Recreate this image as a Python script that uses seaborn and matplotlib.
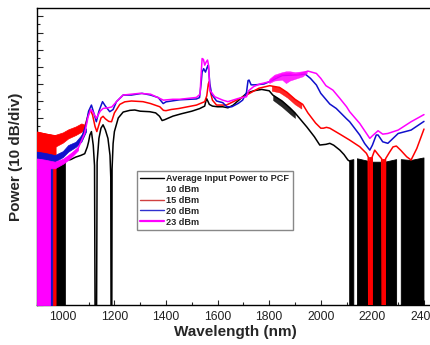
import numpy as np
import pandas as pd
import matplotlib
matplotlib.use("Agg")
import matplotlib.pyplot as plt
import seaborn as sns
from matplotlib.lines import Line2D
from matplotlib.ticker import MultipleLocator

sns.set_style("white")
plt.rcParams['font.family'] = ['Liberation Sans', 'DejaVu Sans']

FLOOR = -170.0
NAN = np.nan

# ---------------- Black: Average input power to PCF, 10 dBm ----------------
bk_wl = [900, 940, 975, 1000, 1010, 1030, 1050, 1070, 1085, 1095, 1100, 1105, 1111, 1118,
         1123, 1125, 1131, 1133, 1140, 1148, 1156, 1165, 1175, 1183, 1186, 1187, 1190, 1191,
         1195, 1200, 1215, 1234, 1260, 1279, 1300, 1337, 1360, 1375, 1385, 1395, 1410, 1427,
         1460, 1500, 1530, 1550, 1557, 1562, 1568, 1580, 1600, 1620, 1640, 1660, 1686, 1712,
         1740, 1771, 1800, 1814, 1850, 1880, 1900, 1946, 1975, 1996, 2020, 2035, 2050, 2074,
         2090, 2105, 2118]
bk_db = [-88, -89, -87, -86, -85, -84.5, -83, -82, -81, -77, -74, -70, -68, -76,
         -88, -170, -170, -86, -72, -66, -64, -67, -72, -82, -95, -170, -170, -90,
         -75, -68, -60, -56.5, -55.5, -55.3, -56, -56.3, -57, -59, -61.5, -61, -60, -58.9,
         -57.5, -56, -54.5, -53, -48.5, -50, -52, -53, -53.4, -53.4, -54, -52.5, -49, -45.5,
         -44, -43.2, -44, -46.5, -50, -54, -57, -65.3, -71, -75.9, -75.5, -74.9, -76, -78.9,
         -81.5, -84.7, -86]
# noise floor regions (signal drops to the floor)
bk_floor_wl = [900, 940, 980, 1000, 1008]
bk_floor_top = [-88, -89, -87, -86, -85.5]
bk_floor2_wl = [2112, 2128, 2133, 2142, 2200, 2250, 2294, 2302, 2312, 2350, 2400]
bk_floor2_top = [-85, -84.5, NAN, -84, -86, -86, -84.5, NAN, -84.5, -85, -83.5]
bk_noise_wl = [1815, 1850, 1880, 1900]
bk_noise_lo = [-49.5, -53.5, -57.5, -60]
bk_noise_hi = [-46.5, -50, -54, -57]

# ---------------- Red: 15 dBm ----------------
rd_wl = [900, 930, 969, 1000, 1021, 1050, 1072, 1085, 1095, 1105, 1115, 1125, 1132, 1140,
         1148, 1156, 1165, 1178, 1189, 1200, 1221, 1240, 1266, 1311, 1340, 1376, 1390, 1400,
         1420, 1450, 1518, 1550, 1558, 1564, 1567, 1571, 1580, 1596, 1634, 1673, 1712, 1760,
         1802, 1840, 1870, 1900, 1930, 1950, 1980, 2000, 2010, 2022, 2035, 2074, 2112, 2151,
         2177, 2184, 2186, 2197, 2199, 2209, 2225, 2236, 2238, 2249, 2251, 2267, 2280, 2293,
         2310, 2333, 2350, 2372, 2400]
rd_db = [-74, -74, -73.5, -71.5, -69.5, -67.5, -65.6, -65, -60, -55, -58, -65, -68, -64,
         -60, -59, -60.5, -62, -62.2, -57, -52, -50.5, -50, -50.4, -51.5, -53.4, -55.5, -55.7,
         -55, -54.4, -52.4, -50.4, -47, -40, -38.7, -44, -49.5, -52.4, -52.4, -49.5, -46.5, -42.5,
         -41, -42, -45, -49, -52, -57, -63, -66, -66, -65.5, -66, -69.5, -73, -76.9,
         -80.8, -83, -170, -170, -83, -78.9, -82, -84, -170, -170, -84, -80, -77, -76.5,
         -79, -82.8, -84.7, -78, -66.5]
rd_band_wl = [900, 930, 969, 1000, 1021, 1050, 1072, 1085]
rd_band_lo = [-80, -79, -77, -74.5, -72, -70, -68.1, -66]
rd_band_hi = [-68, -69, -70, -68.5, -66.7, -65, -63.2, -64]
rd_floor_wl = [900, 930, 960, 972]
rd_floor_top = [-68, -69, -70, -70]
rd_floor2_wl = [2185, 2198, 2218, 2237, 2250]
rd_floor2_top = [-83, -83, NAN, -84, -84]
rd_noise_wl = [1810, 1840, 1870, 1900, 1925]
rd_noise_lo = [-44, -45, -48, -52, -54.5]
rd_noise_hi = [-41, -42, -45, -49, -51.5]

# ---------------- Blue: 20 dBm ----------------
bl_wl = [900, 969, 1000, 1021, 1050, 1072, 1090, 1100, 1111, 1120, 1130, 1140, 1154, 1165,
         1182, 1195, 1208, 1234, 1266, 1307, 1340, 1370, 1389, 1400, 1453, 1518, 1530, 1536,
         1540, 1546, 1553, 1560, 1564, 1570, 1577, 1596, 1620, 1636, 1655, 1680, 1697, 1712,
         1718, 1722, 1730, 1745, 1780, 1800, 1830, 1850, 1880, 1920, 1940, 1960, 1983, 2000,
         2035, 2060, 2100, 2112, 2151, 2170, 2190, 2200, 2215, 2222, 2240, 2260, 2300, 2350,
         2400]
bl_db = [-83, -84, -81, -78, -75.5, -72, -64, -56, -52.4, -57, -62.2, -56, -50.4, -53,
         -56.3, -55, -50.4, -46.5, -46.5, -45.5, -46.5, -48, -51.5, -50.5, -49.3, -48.8, -48, -40,
         -33, -31, -33, -30, -29, -40, -46, -50, -51, -53.4, -53.4, -51.4, -49.5, -45,
         -38, -37.7, -40.5, -40.5, -40, -38.7, -36.5, -35, -34.8, -34.5, -34.2, -36.7, -40.6, -45.5,
         -51.8, -54.4, -60.5, -62.2, -70, -75, -78.9, -76, -70, -70, -74, -74.9, -69.1, -67.1,
         -62]
bl_band_wl = [900, 930, 969, 1000, 1021, 1050, 1072, 1090]
bl_band_lo = [-86.7, -86.5, -85.7, -83, -79.8, -77, -73.9, -68]
bl_band_hi = [-79.8, -80.5, -81.8, -79.5, -75.9, -74, -70, -66]
bl_floor_wl = [900, 930, 959]
bl_floor_top = [-80, -81, -82]

# ---------------- Magenta: 23 dBm ----------------
mg_wl = [900, 969, 1000, 1021, 1040, 1059, 1085, 1098, 1108, 1115, 1130, 1145, 1156, 1175,
         1190, 1208, 1234, 1266, 1298, 1340, 1376, 1390, 1426, 1453, 1518, 1532, 1536, 1540,
         1545, 1550, 1556, 1561, 1565, 1570, 1589, 1620, 1640, 1680, 1712, 1720, 1740, 1764,
         1800, 1820, 1850, 1880, 1900, 1920, 1950, 1983, 2000, 2020, 2047, 2074, 2100, 2112,
         2130, 2151, 2170, 2190, 2200, 2222, 2240, 2260, 2300, 2350, 2400]
mg_db = [-86.5, -87.5, -85.5, -83, -81, -78, -69, -59.3, -55, -56, -60.2, -56, -54.4, -54,
         -53.5, -50.4, -46.5, -46, -45.5, -46, -48.5, -49.5, -49, -49, -47.9, -46, -35, -25,
         -25.5, -28.9, -27, -25.9, -29, -43.6, -47.5, -49.5, -50.4, -48.5, -47.5, -44, -41.5, -40,
         -38.7, -36.1, -34.5, -34, -34.8, -34, -32.4, -33.8, -36.7, -41, -43.6, -48.5, -53.4, -56.3,
         -59.5, -63.2, -67.5, -72, -70.5, -67.5, -69.5, -69.1, -67.1, -62.2, -58]
mg_band_wl = [900, 930, 969, 1000, 1021, 1040, 1059]
mg_band_lo = [-89.6, -89.6, -89.6, -87, -84.7, -82, -79]
mg_band_hi = [-83.8, -84.5, -85.7, -84, -81.8, -79.5, -76.9]
mg_floor_wl = [900, 930, 950]
mg_floor_top = [-84, -85, -85.5]
mg_noise_wl = [1800, 1820, 1850, 1865, 1880, 1900, 1930, 1946]
mg_noise_lo = [-39.5, -38, -37.5, -39.5, -38, -37, -35.5, -33.5]
mg_noise_hi = [-37, -34.5, -33, -32.5, -32.5, -33, -32.5, -32.5]

legend_labels = ["Average Input Power to PCF", "10 dBm", "15 dBm", "20 dBm", "23 dBm"]
xticks = [1000, 1200, 1400, 1600, 1800, 2000, 2200, 2400]

BLACK, RED, BLUE, MAG = "#000000", "#ff0000", "#1010cc", "#ff00ff"

fig = plt.figure(figsize=(4.31, 3.45), dpi=100)
ax = fig.add_axes([37 / 431, 40 / 345, 397.3 / 431, 297 / 345])

series = [
    (BLACK, bk_wl, bk_db, None, [(bk_floor_wl, bk_floor_top), (bk_floor2_wl, bk_floor2_top)],
     (bk_noise_wl, bk_noise_lo, bk_noise_hi)),
    (RED, rd_wl, rd_db, (rd_band_wl, rd_band_lo, rd_band_hi),
     [(rd_floor_wl, rd_floor_top), (rd_floor2_wl, rd_floor2_top)],
     (rd_noise_wl, rd_noise_lo, rd_noise_hi)),
    (BLUE, bl_wl, bl_db, (bl_band_wl, bl_band_lo, bl_band_hi), [(bl_floor_wl, bl_floor_top)], None),
    (MAG, mg_wl, mg_db, (mg_band_wl, mg_band_lo, mg_band_hi), [(mg_floor_wl, mg_floor_top)],
     (mg_noise_wl, mg_noise_lo, mg_noise_hi)),
]

for i, (c, wl, db, band, floors, noise) in enumerate(series):
    z = 2 + i
    for fw, ft in floors:
        ax.fill_between(fw, [FLOOR] * len(fw), ft, color=c, linewidth=0.6, edgecolor=c, zorder=z)
    if band is not None:
        ax.fill_between(band[0], band[1], band[2], color=c, linewidth=0.5, edgecolor=c, zorder=z)
    if noise is not None:
        ax.fill_between(noise[0], noise[1], noise[2], color=c, linewidth=0.3, edgecolor=c,
                        alpha=0.85, zorder=z)
    df = pd.DataFrame({"wl": wl, "db": db})
    sns.lineplot(data=df, x="wl", y="db", color=c, linewidth=1.1, sort=False,
                 estimator=None, ax=ax, legend=False, zorder=z)

ax.set_xlim(900, 2440)
ax.set_ylim(FLOOR, 4.7)
ax.set_xticks(xticks)
ax.xaxis.set_minor_locator(MultipleLocator(100))
ax.yaxis.set_major_locator(MultipleLocator(10))
ax.yaxis.set_minor_locator(MultipleLocator(5))
ax.tick_params(axis="x", which="major", direction="in", length=3.5, width=0.8,
               labelsize=8.8, pad=4, labelcolor="#222222", bottom=True)
ax.tick_params(axis="x", which="minor", direction="in", length=2, width=0.8, bottom=True)
ax.tick_params(axis="y", which="major", direction="in", length=4.5, width=0.8,
               left=True, labelleft=False)
ax.tick_params(axis="y", which="minor", direction="in", length=2.5, width=0.8, left=True)
for s in ax.spines.values():
    s.set_color("black")
    s.set_linewidth(1.0)

ax.set_xlabel("Wavelength (nm)", fontsize=11, fontweight="bold", labelpad=2)
ax.set_ylabel("Power (10 dB/div)", fontsize=11, fontweight="bold", labelpad=7)

handles = [Line2D([], [], color=BLACK, lw=1.0), Line2D([], [], color="none"),
           Line2D([], [], color="#d04040", lw=1.0), Line2D([], [], color="#3030d0", lw=1.0),
           Line2D([], [], color=MAG, lw=1.6)]
leg = ax.legend(handles, legend_labels, loc="upper left",
                bbox_to_anchor=((137 - 37) / 397.3, (305 - 171) / 297),
                prop={"weight": "bold", "size": 6.6}, frameon=True, fancybox=False,
                edgecolor="#888888", framealpha=1, borderpad=0.35, labelspacing=0.2,
                handlelength=2.6, handletextpad=0.25, borderaxespad=0)
leg.get_frame().set_linewidth(1.0)
leg.set_zorder(10)

fig.savefig("out.png", dpi=100)
